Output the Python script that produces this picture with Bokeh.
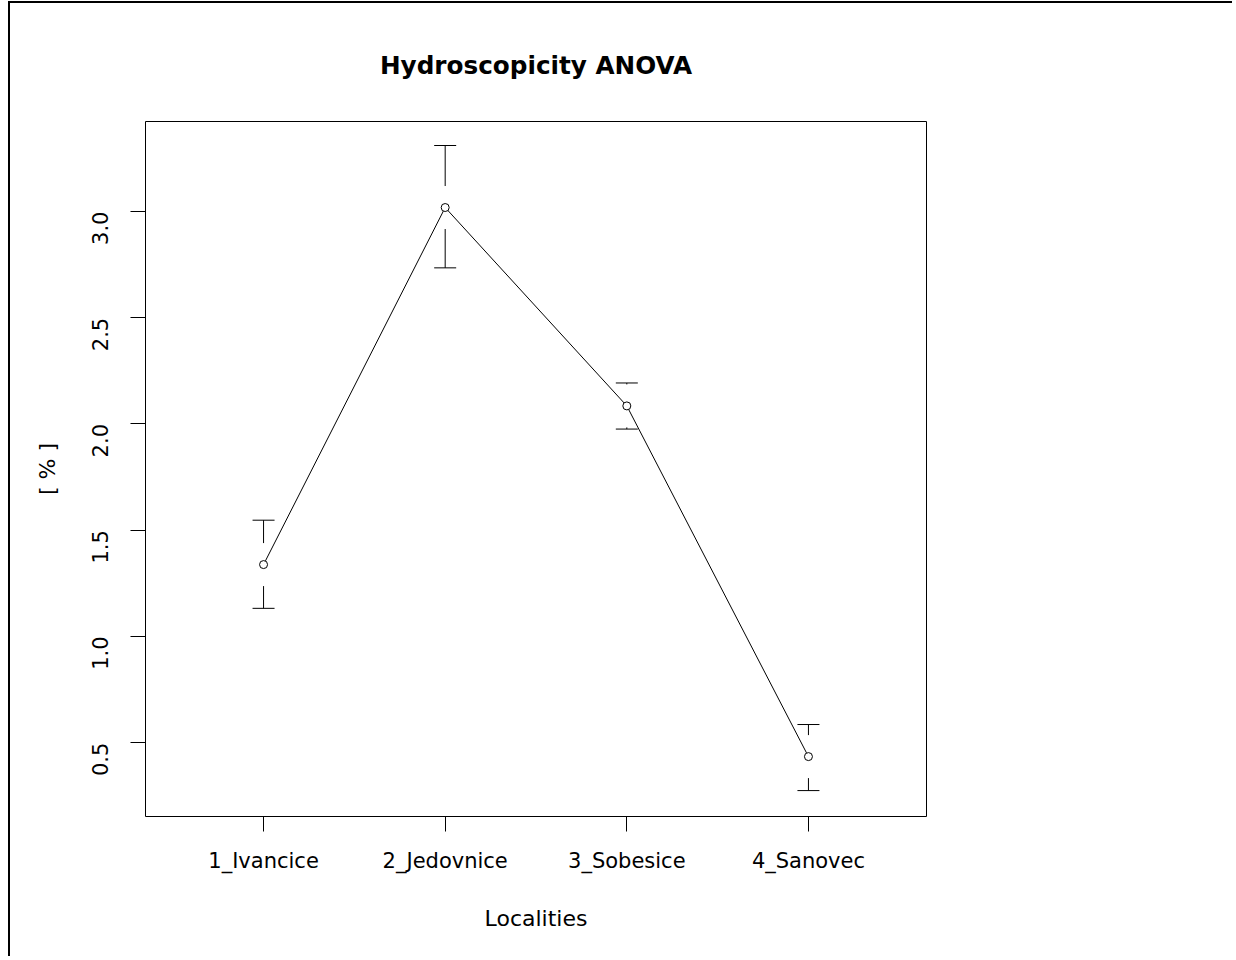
import math
from bokeh.plotting import figure
from bokeh.models import Range1d, FixedTicker, ColumnDataSource
from bokeh.embed import file_html
from bokeh.resources import INLINE

# ---- data ----
localities = ["1_Ivancice", "2_Jedovnice", "3_Sobesice", "4_Sanovec"]
means = [1.338, 3.019, 2.085, 0.434]
upper = [1.547, 3.311, 2.193, 0.585]
lower = [1.132, 2.735, 1.976, 0.274]
y_ticks = [0.5, 1.0, 1.5, 2.0, 2.5, 3.0]
title_text = "Hydroscopicity ANOVA"
x_label = "Localities"
y_label = "[ % ]"

# ---- layout ----
W, H = 1224, 955
ML, MT = 135, 118
FRAME_W, FRAME_H = 781, 695
MR = W - ML - FRAME_W
MB = H - MT - FRAME_H
Y0, Y1 = 0.152, 3.424
X0, X1 = 0.35, 4.65
FONT = "DejaVu Sans"
GAP_PX = 21.5

xs = [i + 1 for i in range(len(localities))]
gap = GAP_PX * (Y1 - Y0) / FRAME_H

src = ColumnDataSource(dict(
    x=xs, mean=means, up=upper, lo=lower,
    top0=[min(m + gap, u) for m, u in zip(means, upper)],
    bot0=[max(m - gap, l) for m, l in zip(means, lower)],
))

p = figure(width=W, height=H, x_range=Range1d(X0, X1), y_range=Range1d(Y0, Y1),
           output_backend="svg", toolbar_location=None, title=title_text,
           min_border_left=ML, min_border_right=MR, min_border_top=MT, min_border_bottom=MB)
p.margin = (1, 0, 0, 8)
p.styles = {"border-left": "2px solid black", "border-top": "2px solid black"}

p.background_fill_color = "white"
p.border_fill_color = "white"
p.outline_line_color = "black"
p.outline_line_width = 1
p.grid.visible = False

p.title.align = "center"
p.title.text_font = FONT
p.title.text_font_style = "bold"
p.title.text_font_size = "24.7px"
p.title.text_color = "black"
p.title.standoff = 84

for ax in (p.xaxis[0], p.yaxis[0]):
    ax.axis_line_color = None
    ax.major_tick_line_color = "black"
    ax.major_tick_out = 15
    ax.major_tick_in = 0
    ax.minor_tick_line_color = None
    ax.major_label_text_font = FONT
    ax.major_label_text_font_size = "21px"
    ax.major_label_text_color = "black"
    ax.axis_label_text_font = FONT
    ax.axis_label_text_font_size = "22px"
    ax.axis_label_text_font_style = "normal"
    ax.axis_label_text_color = "black"

p.xaxis.ticker = FixedTicker(ticks=xs)
p.xaxis.major_label_overrides = {x: name for x, name in zip(xs, localities)}
p.xaxis.major_label_standoff = 17
p.xaxis.axis_label = x_label
p.xaxis.axis_label_standoff = 30

p.yaxis.ticker = FixedTicker(ticks=y_ticks)
p.yaxis.major_label_overrides = {t: f"{t:.1f}" for t in y_ticks}
p.yaxis.major_label_orientation = math.pi / 2
p.yaxis.major_label_standoff = 30
p.yaxis.axis_label = y_label
p.yaxis.axis_label_standoff = 22

# mean line
p.line("x", "mean", source=src, line_color="black", line_width=1)
# error bars with gap around the point
p.segment(x0="x", y0="top0", x1="x", y1="up", source=src, line_color="black", line_width=1)
p.segment(x0="x", y0="bot0", x1="x", y1="lo", source=src, line_color="black", line_width=1)
p.scatter("x", "up", source=src, marker="dash", size=22, line_color="black", line_width=1)
p.scatter("x", "lo", source=src, marker="dash", size=22, line_color="black", line_width=1)
# points
p.scatter("x", "mean", source=src, marker="circle", size=8, fill_color="white",
          line_color="black", line_width=1)

open("out.html", "w").write(file_html(p, INLINE))
